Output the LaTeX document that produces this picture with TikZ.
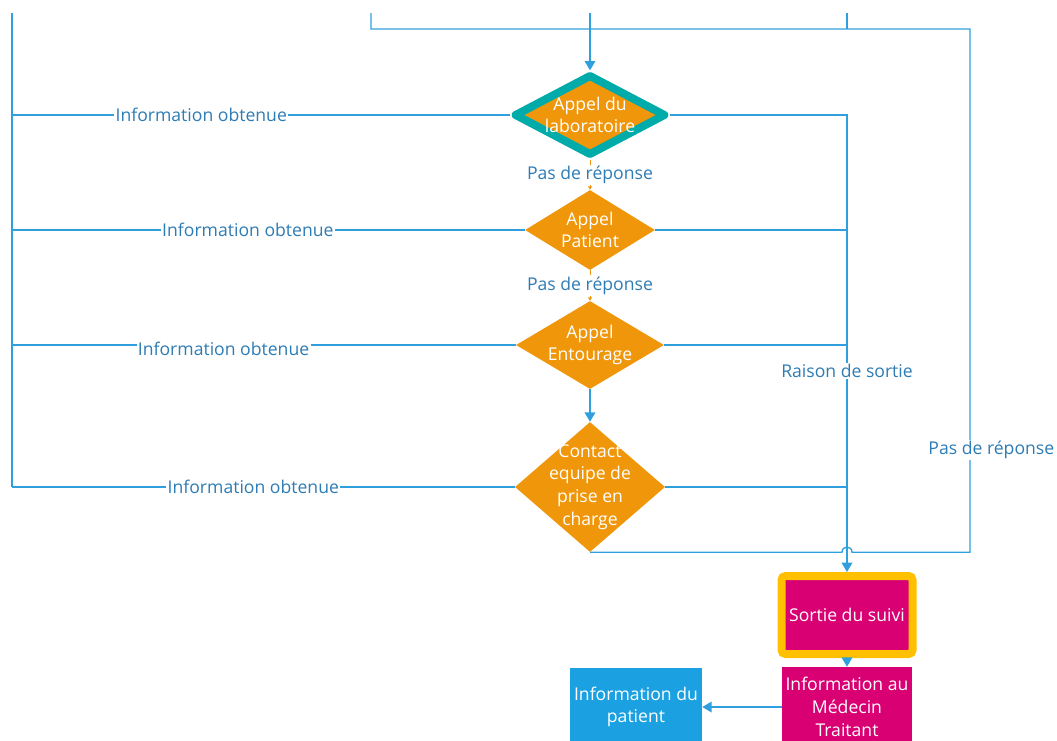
\documentclass[tikz,border=0pt]{standalone}
\usepackage{fontspec}
\setmainfont{Open Sans}
\usepackage{tikz}
\usetikzlibrary{positioning, calc, arrows.meta, shapes}
\tikzset{>={Triangle[width=8pt,length=7pt]}}
\definecolor{wireblue}{HTML}{2FA0DD}
\definecolor{boxblue}{HTML}{1BA1E2}
\definecolor{dorange}{HTML}{F0960A}
\definecolor{dteal}{HTML}{00ABA9}
\definecolor{dmagenta}{HTML}{D80073}
\definecolor{dyellow}{HTML}{FFC000}
\definecolor{lbltext}{HTML}{2E7CB5}

\begin{document}
\begin{tikzpicture}
    [x=0.75pt, y=-0.75pt, on grid,
     every node/.style={font=\fontsize{13.2}{17}\selectfont, align=center},
     dia/.style={diamond, fill=dorange, inner sep=0pt},
     dtxt/.style={text=white, inner sep=0pt},
     box/.style={rectangle, fill=dmagenta, text=white, inner sep=0pt},
     lbl/.style={fill=white, text=lbltext, inner sep=1pt},
     wire/.style={wireblue, line width=1pt}]
    \useasboundingbox (0,0) rectangle (1057,740);

    \node[dia, draw=dteal, line width=6pt, line join=round, minimum width=114pt, minimum height=61pt,
          label={[dtxt]center:{Appel du\\laboratoire}}] (lab) at (590,115) {};
    \node[dia, minimum width=97.5pt, minimum height=60pt, below=86.25pt of lab,
          label={[dtxt]center:{Appel\\Patient}}] (pat) {};
    \node[dia, minimum width=111pt, minimum height=66pt, below=86.25pt of pat,
          label={[dtxt]center:{Appel\\Entourage}}] (ent) {};
    \node[dia, minimum width=112.5pt, minimum height=97.5pt, below=106.5pt of ent,
          label={[dtxt]center:{Contact\\equipe de\\prise en\\charge}}] (con) {};

    \node[box, draw=dyellow, line width=6pt, rounded corners=3pt, minimum width=98.25pt,
          minimum height=58.5pt] (sortie) at (847,615) {Sortie du suivi};
    \node[box, minimum width=97.5pt, minimum height=60pt, below=69pt of sortie] (med) {Information au\\Médecin\\Traitant};
    \node[box, fill=boxblue, minimum width=99pt, minimum height=58.5pt, left=158.25pt of med] (info) {Information du\\patient};

    % loose ends at the top
    \coordinate (tL) at (12,13);
    \coordinate (tA) at (371,13);
    \coordinate (tB) at (590,13);
    \coordinate (tC) at (847,13);
    \coordinate (rU) at (970,29);

    \draw[wire, ->] (tB) -- (lab.north);
    \draw[wire] (tC) -- (tC |- rU);
    \draw[wire] (tL) -- (tL |- con.west);

    % information obtenue
    \draw[wire] (lab.west) -- node[lbl, pos=0.62] {Information obtenue} (lab.west -| tL);
    \draw[wire] (pat.west) -- node[lbl, pos=0.54] {Information obtenue} (pat.west -| tL);
    \draw[wire] (ent.west) -- node[lbl, pos=0.58, yshift=-3pt] {Information obtenue} (ent.west -| tL);
    \draw[wire] (con.west) -- node[lbl, pos=0.52] {Information obtenue} (con.west -| tL);

    % pas de reponse
    \draw[dorange, line width=0.6pt, -{Triangle[width=3pt,length=2.5pt]}] (lab.south) -- node[lbl] {Pas de réponse} (pat.north);
    \draw[dorange, line width=0.6pt, -{Triangle[width=3pt,length=2.5pt]}] (pat.south) -- node[lbl] {Pas de réponse} (ent.north);
    \draw[wire, ->] (ent.south) -- (con.north);

    % raison de sortie
    \draw[wire, ->] (lab.east) -| node[lbl, pos=0.78] {Raison de sortie} (sortie.north);
    \draw[wire] (pat.east) -- (pat.east -| sortie.north);
    \draw[wire] (ent.east) -- (ent.east -| sortie.north);
    \draw[wire] (con.east) -- (con.east -| sortie.north);

    \coordinate (hop) at (con.south -| sortie.north);
    \draw[wire] (con.south) -- ($(hop)+(-5,0)$) .. controls +(0,-7) and +(0,-7) .. ($(hop)+(5,0)$)
        -- (hop -| rU) -- node[lbl, pos=0.195, xshift=16pt] {Pas de réponse} (rU) -- (rU -| tA) -- (tA);

    \draw[wire, ->] (sortie.south) -- (med.north);
    \draw[wire, ->] (med.west) -- (info.east);
\end{tikzpicture}
\end{document}
